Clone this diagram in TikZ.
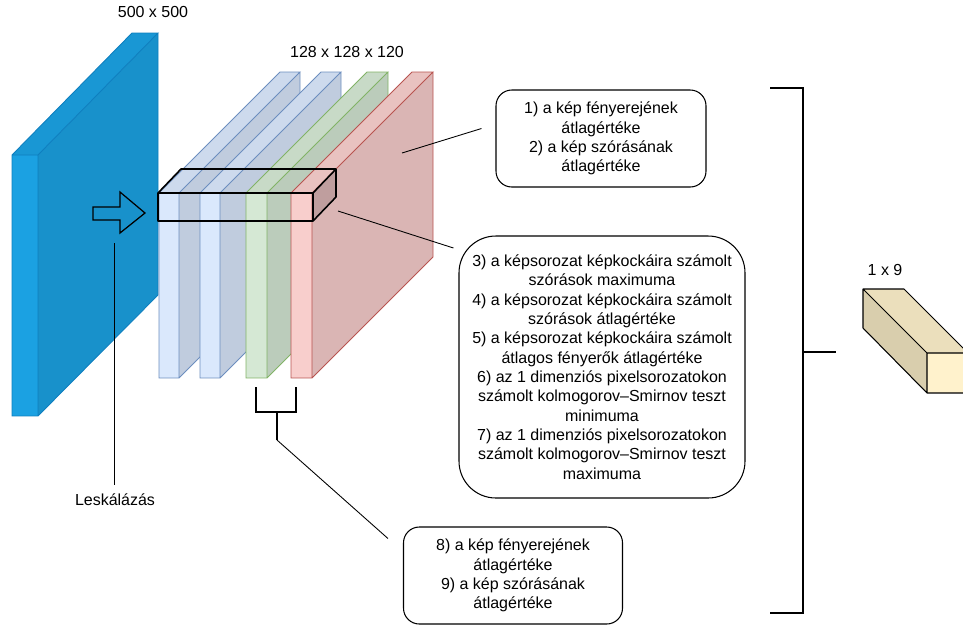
\documentclass[tikz,border=0pt]{standalone}
\usepackage{fontspec}
\setmainfont{Liberation Sans}
\usepackage{tikz}
\usetikzlibrary{positioning}
\usepackage{xcolor}

\definecolor{inblue}{HTML}{1BA1E2}
\definecolor{inbluedraw}{HTML}{0F7FBF}
\definecolor{chblue}{HTML}{DAE8FC}
\definecolor{chbluedraw}{HTML}{6C8EBF}
\definecolor{chgreen}{HTML}{D5E8D4}
\definecolor{chgreendraw}{HTML}{82B366}
\definecolor{chred}{HTML}{F8CECC}
\definecolor{chreddraw}{HTML}{B85450}
\definecolor{outyellow}{HTML}{FFF2CC}

\tikzset{
  txt/.style={font=\fontsize{9.1}{11}\selectfont, align=center, inner sep=0pt},
  featbox/.style={draw, line width=0.6pt, rounded corners=9pt, txt},
  thickline/.style={line width=1.6pt},
}

% front, top and side face of a thin slab
\newcommand{\slab}[6]{%
  \fill[#5] (#1,#2) rectangle ++(#3,#4);
  \fill[#5!94!black] (#1,#2) -- ++(121,-121) -- ++(#3,0) -- ++(-121,121) -- cycle;
  \fill[#5!88!black] (#1+#3,#2) -- ++(121,-121) -- ++(0,#4) -- ++(-121,121) -- cycle;
  \draw[#6, line width=0.5pt] (#1,#2) rectangle ++(#3,#4)
    (#1,#2) -- ++(121,-121) -- ++(#3,0) -- ++(-121,121)
    ++(121,-121) -- ++(0,#4) -- ++(-121,121);
}

\begin{document}
\begin{tikzpicture}[x=0.02cm, y=-0.02cm]
  \clip (0,0) rectangle (963,627);
  \useasboundingbox (0,0) rectangle (963,627);

  % input image
  \fill[inblue] (12,155) rectangle (38,416);
  \fill[inblue!94!black] (12,155) -- (132,33) -- (158,33) -- (38,155) -- cycle;
  \fill[inblue!90!black] (38,155) -- (158,33) -- (158,295) -- (38,416) -- cycle;
  \draw[inbluedraw, line width=0.5pt] (12,155) rectangle (38,416)
    (12,155) -- (132,33) -- (158,33) -- (38,155) (158,33) -- (158,295) -- (38,416);
  \node[txt] (insize) at (153,12) {500 x 500};

  % scaling arrow
  \draw[line width=0.7pt] (93,207) -- (120,207) -- (120,192) -- (145,213)
    -- (120,233) -- (120,220) -- (93,220) -- cycle;
  \coordinate (scaletop) at (114,243);
  \node[txt] (scale) at (115,500) {Leskálázás};
  \draw[line width=0.5pt] (scale.north) ++(-1,-9) -- (scaletop);

  % channels
  \slab{159}{193}{20}{185}{chblue}{chbluedraw}
  \slab{200}{193}{20}{185}{chblue}{chbluedraw}
  \slab{246}{193}{21}{185}{chgreen}{chgreendraw}
  \slab{291}{193}{21}{185}{chred}{chreddraw}
  \node[txt] (chsize) at (347,52) {128 x 128 x 120};

  % pixel row
  \fill[black, opacity=0.12] (313,193) -- (336,169) -- (336,197) -- (313,221) -- cycle;
  \draw[line width=0.9pt, line join=round] (158,193) rectangle (313,221)
    (158,193) -- (181,169) -- (336,169) -- (313,193)
    (336,169) -- (336,197) -- (313,221);

  % feature boxes
  \node[featbox, minimum width=210*0.02cm, minimum height=97*0.02cm] (box1) at (601,138.5)
    {1) a kép fényerejének\\átlagértéke\\2) a kép szórásának\\átlagértéke};
  \node[featbox, rounded corners=21pt, minimum width=286*0.02cm, minimum height=262*0.02cm] (box2) at (602,367)
    {3) a képsorozat képkockáira számolt\\szórások maximuma\\
     4) a képsorozat képkockáira számolt\\szórások átlagértéke\\
     5) a képsorozat képkockáira számolt\\átlagos fényerők átlagértéke\\
     6) az 1 dimenziós pixelsorozatokon\\számolt kolmogorov--Smirnov teszt\\minimuma\\
     7) az 1 dimenziós pixelsorozatokon\\számolt kolmogorov--Smirnov teszt\\maximuma};
  \node[featbox, minimum width=219*0.02cm, minimum height=97*0.02cm] (box3) at (513,575.5)
    {8) a kép fényerejének\\átlagértéke\\9) a kép szórásának\\átlagértéke};

  \coordinate (redface) at (402,153);
  \coordinate (rowend) at (338,211);
  \coordinate (pairstem) at (277,440);
  \draw[line width=0.5pt] (redface) -- ([shift={(-14,-10)}]box1.west);
  \draw[line width=0.5pt] (rowend) -- ([shift={(-5,-119)}]box2.west);
  \draw[line width=0.5pt] (pairstem) -- ([shift={(-15,-37)}]box3.west);

  % green/red pair bracket
  \draw[thickline] (256,387) -- (256,412) -- (296,412) -- (296,387);
  \draw[thickline] (277,412) -- (pairstem);

  % collecting bracket
  \coordinate (collect) at (836,352);
  \draw[thickline] (770,88) -- (803,88) -- (803,613) -- (770,613);
  \draw[thickline] (803,352) -- (collect);

  % output vector
  \fill[outyellow] (927,353) rectangle (968,393);
  \fill[outyellow!92!black] (927,353) -- (863,289) -- (904,289) -- (968,353) -- cycle;
  \fill[outyellow!85!black] (927,353) -- (863,289) -- (863,328) -- (927,393) -- cycle;
  \draw[line width=0.6pt, line join=round] (927,353) rectangle (968,393)
    (927,353) -- (863,289) -- (904,289) -- (968,353)
    (863,289) -- (863,328) -- (927,393);
  \node[txt] (outsize) at (885,270) {1 x 9};
\end{tikzpicture}
\end{document}
